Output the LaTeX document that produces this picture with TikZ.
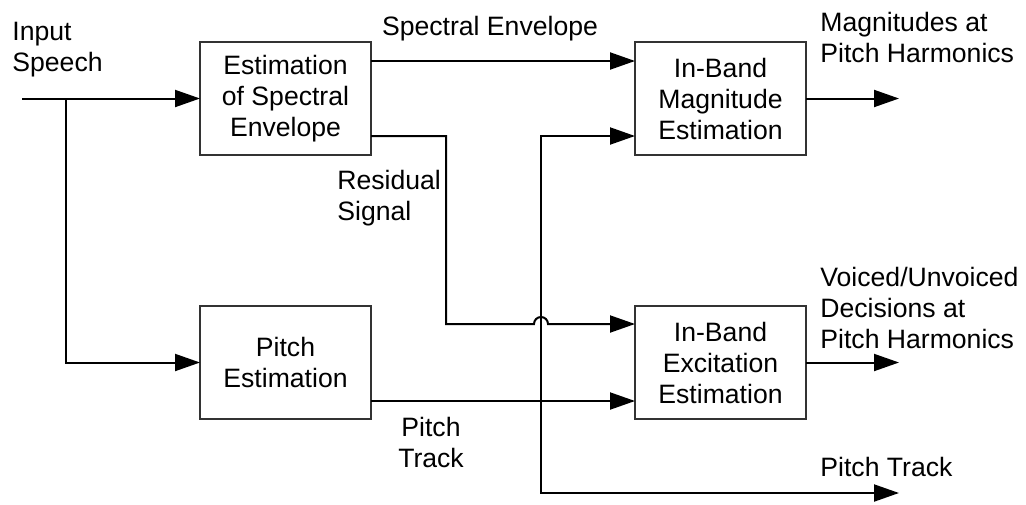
\documentclass[tikz,border=0pt]{standalone}
\usepackage{fontspec}
\setmainfont{Liberation Sans}
\usepackage{tikz}
\usetikzlibrary{arrows.meta, positioning, calc}

\begin{document}
\begin{tikzpicture}[
    x=0.5pt, y=-0.5pt,
    node distance=75.5pt and 132pt,
    block/.style={rectangle, draw=black!80, line width=0.6pt, minimum width=85.5pt, minimum height=56.5pt, inner sep=0pt, outer sep=0pt, align=center, font=\fontsize{13.3pt}{15.5pt}\selectfont},
    lbl/.style={inner sep=0pt, font=\fontsize{13.3pt}{15.5pt}\selectfont},
    arrow/.style={-{Triangle[length=12.5pt, width=8.5pt]}, line width=1pt}
]
\useasboundingbox (0,0) rectangle (1026,504);

\node[block] (est) at (285.5,98.5) {Estimation\\of Spectral\\Envelope};
\node[block, right=of est] (mag) {In-Band\\Magnitude\\Estimation};
\node[block, below=of est] (pitch) {Pitch\\Estimation};
\node[block, below=of mag] (exc) {In-Band\\Excitation\\Estimation};

\coordinate (in) at (22,98.5);
\coordinate (br) at (66,98.5);
\coordinate (jn) at (541,401);
\coordinate (magout) at (899,98.5);
\coordinate (excout) at (899,362.5);
\coordinate (ptk) at (899,493);
\coordinate (res) at (446,324);

\node[lbl, anchor=west, align=left] (inlbl) at (12,50) {Input\\Speech};
\node[lbl] (envlbl) at (490,29) {Spectral Envelope};
\node[lbl, anchor=west, align=left] (reslbl) at (337,198) {Residual\\Signal};
\node[lbl, align=center] (trklbl) at (431,442) {Pitch\\Track};
\node[lbl, anchor=west, align=left] (maglbl) at (820,37) {Magnitudes at\\Pitch Harmonics};
\node[lbl, anchor=west, align=left] (vuvlbl) at (820,308) {Voiced/Unvoiced\\Decisions at\\Pitch Harmonics};
\node[lbl, anchor=west] (ptklbl) at (820,467) {Pitch Track};

\draw[arrow] (in) -- (est);
\draw[arrow] (br) |- (pitch);
\draw[arrow] ([yshift=18.75pt]est.east) -- ([yshift=18.75pt]mag.west);
\draw[arrow] ([yshift=-18.75pt]est.east) -| (res) -- (534,324)
    arc[start angle=180, end angle=0, radius=3.5pt] -- ([yshift=19.25pt]exc.west);
\draw[arrow] ([yshift=-19.25pt]pitch.east) -- ([yshift=-19.25pt]exc.west);
\draw[arrow] (jn) |- ([yshift=-18.75pt]mag.west);
\draw[arrow] (jn) |- (ptk);
\draw[arrow] (mag) -- (magout);
\draw[arrow] (exc) -- (excout);

\end{tikzpicture}
\end{document}
